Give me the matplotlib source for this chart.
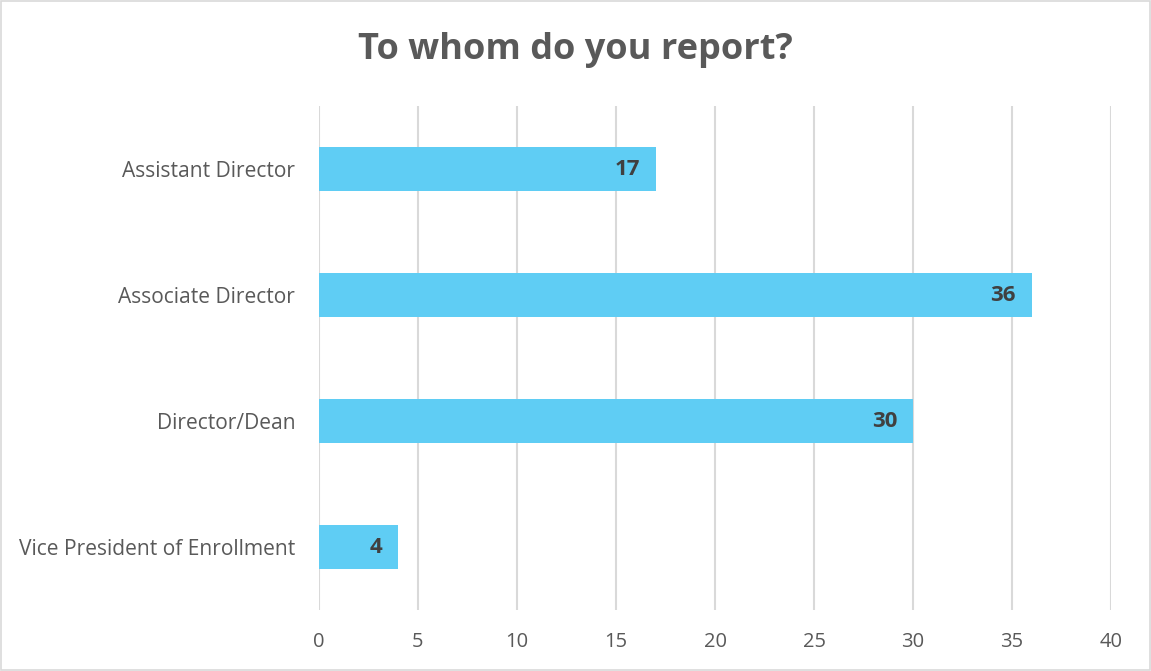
import matplotlib.pyplot as plt
from matplotlib.patches import Rectangle

plt.rcParams['font.family'] = ['Open Sans', 'DejaVu Sans']

# Data
categories = ['Assistant Director', 'Associate Director', 'Director/Dean',
              'Vice President of Enrollment']
counts = [17, 36, 30, 4]
x_ticks = [0, 5, 10, 15, 20, 25, 30, 35, 40]

bar_color = '#5FCDF4'
grid_color = '#D9D9D9'
text_color = '#595959'

fig = plt.figure(figsize=(11.51, 6.71), dpi=100)
ax = fig.add_axes([0.2771, 0.0909, 0.6882, 0.7511])

y_pos = list(range(len(categories)))
bars = ax.barh(y_pos, counts, height=0.35, color=bar_color, zorder=3)
ax.set_ylim(len(categories) - 0.5, -0.5)
ax.set_xlim(0, 40)

ax.set_yticks(y_pos)
ax.set_yticklabels(categories, fontsize=15.1, color=text_color)
ax.set_xticks(x_ticks)
ax.set_xticklabels([str(t) for t in x_ticks], fontsize=14.5, color=text_color)
ax.tick_params(axis='both', length=0)
ax.tick_params(axis='y', pad=17)
ax.tick_params(axis='x', pad=16)

ax.grid(axis='x', color=grid_color, linewidth=1.5, zorder=0)
for s in ax.spines.values():
    s.set_visible(False)

# Value labels inside bar ends
for b, v in zip(bars, counts):
    ax.text(b.get_width() - 0.8, b.get_y() + b.get_height() / 2, str(v),
            ha='right', va='center', fontsize=16, fontweight='bold',
            color='#404040', zorder=4)

fig.text(0.5, 0.926, 'To whom do you report?', ha='center', va='center',
         fontsize=26, fontweight='bold', color=text_color)

# Chart border
fig.patches.append(Rectangle((0.0005, 0.0008), 0.999, 0.998, transform=fig.transFigure,
                             fill=False, edgecolor=grid_color, linewidth=1.2))

fig.savefig('out.png', dpi=100)
